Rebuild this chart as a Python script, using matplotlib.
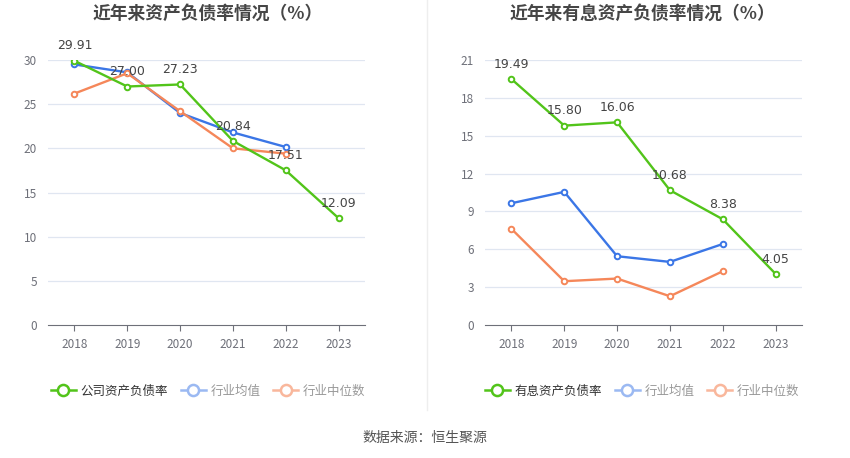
import matplotlib
matplotlib.use("Agg")
import matplotlib.pyplot as plt
from matplotlib.lines import Line2D

plt.rcParams['font.family'] = ['Noto Sans CJK SC', 'DejaVu Sans']

years = ["2018", "2019", "2020", "2021", "2022", "2023"]

# Left chart: 资产负债率
company_debt = [29.91, 27.00, 27.23, 20.84, 17.51, 12.09]
industry_mean_debt = [29.5, 28.6, 24.0, 21.8, 20.15]
industry_median_debt = [26.2, 28.5, 24.2, 20.0, 19.4]

# Right chart: 有息资产负债率
company_int = [19.49, 15.80, 16.06, 10.68, 8.38, 4.05]
industry_mean_int = [9.65, 10.55, 5.45, 5.0, 6.42]
industry_median_int = [7.62, 3.47, 3.68, 2.28, 4.26]

left_ticks = [0, 5, 10, 15, 20, 25, 30]
right_ticks = [0, 3, 6, 9, 12, 15, 18, 21]

GREEN = '#52c41a'
BLUE = '#3b76e6'
ORANGE = '#f5875a'
GREEN_L = '#52c41a'
BLUE_L = '#9bb9f2'
ORANGE_L = '#f9b79c'
GRID = '#e0e6f1'

W, H = 850, 458
fig = plt.figure(figsize=(W / 100, H / 100), dpi=100)


def make_axes(x0, x1, ytop, ybot):
    return fig.add_axes([x0 / W, (H - ybot) / H, (x1 - x0) / W, (ybot - ytop) / H])


def draw(ax, comp, mean, med, ticks, title, comp_label, tx):
    x = list(range(len(years)))
    ax.set_xlim(-0.5, len(years) - 0.5)
    ax.set_ylim(ticks[0], ticks[-1])
    ax.set_yticks(ticks)
    ax.set_xticks(x)
    ax.set_xticklabels(years)
    for t in ticks[1:]:
        ax.axhline(t, color=GRID, lw=0.9, zorder=0)
    for s in ['top', 'right', 'left']:
        ax.spines[s].set_visible(False)
    ax.spines['bottom'].set_color('#6e7079')
    ax.tick_params(axis='y', length=0, colors='#6e7079', labelsize=8.5, pad=8)
    ax.tick_params(axis='x', length=4, color='#6e7079', colors='#6e7079', labelsize=8.5, pad=5)
    mk = dict(marker='o', markersize=4, markerfacecolor='white', markeredgewidth=1.4, lw=1.7)
    ax.plot(x[:len(mean)], mean, color=BLUE, zorder=3, **mk)
    ax.plot(x[:len(med)], med, color=ORANGE, zorder=3, **mk)
    ax.plot(x, comp, color=GREEN, zorder=4, **mk)
    for xi, v in zip(x, comp):
        ax.annotate(f"{v:.2f}", (xi, v), xytext=(0, 6), textcoords='offset points',
                    ha='center', va='bottom', fontsize=9, color='#444444', zorder=5,
                    family=['DejaVu Sans'])
    fig.text(tx / W, 1 - 14 / H, title, ha='center', va='center', fontsize=12.8,
             fontweight='bold', color='#464646')
    handles = [
        Line2D([0], [0], color=GREEN_L, marker='o', markersize=8, markerfacecolor='white', markeredgewidth=1.8, lw=1.8),
        Line2D([0], [0], color=BLUE_L, marker='o', markersize=8, markerfacecolor='white', markeredgewidth=1.8, lw=1.8),
        Line2D([0], [0], color=ORANGE_L, marker='o', markersize=8, markerfacecolor='white', markeredgewidth=1.8, lw=1.8),
    ]
    leg = ax.legend(handles, [comp_label, '行业均值', '行业中位数'], ncol=3, frameon=False,
                    loc='center', bbox_to_anchor=(tx / W, 1 - 391 / H), bbox_transform=fig.transFigure,
                    fontsize=9, handlelength=2.0, handletextpad=0.4, columnspacing=1.0)
    cols = ['#333333', '#999999', '#999999']
    for t, c in zip(leg.get_texts(), cols):
        t.set_color(c)


axL = make_axes(48, 365, 60, 325)
draw(axL, company_debt, industry_mean_debt, industry_median_debt, left_ticks,
     '近年来资产负债率情况（%）', '公司资产负债率', 208)
axR = make_axes(485, 802, 60, 325)
draw(axR, company_int, industry_mean_int, industry_median_int, right_ticks,
     '近年来有息资产负债率情况（%）', '有息资产负债率', 642)

fig.add_artist(Line2D([427 / W, 427 / W], [1 - 410 / H, 1.0], color='#eeeeee', lw=1))
fig.text(425 / W, 1 - 438 / H, '数据来源：恒生聚源', ha='center', va='center', fontsize=10, color='#555555')

fig.savefig('out.png', dpi=100)
